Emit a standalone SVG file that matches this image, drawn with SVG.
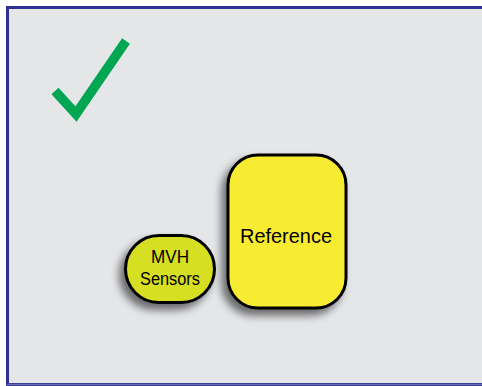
<svg xmlns="http://www.w3.org/2000/svg" width="482" height="386" viewBox="0 0 482 386">
  <defs>
    <filter id="shadow" x="-30%" y="-30%" width="160%" height="160%">
      <feGaussianBlur in="SourceAlpha" stdDeviation="4"/>
      <feOffset dx="-5" dy="6" result="b"/>
      <feComponentTransfer><feFuncA type="linear" slope="0.55"/></feComponentTransfer>
      <feMerge><feMergeNode/><feMergeNode in="SourceGraphic"/></feMerge>
    </filter>
  </defs>
  <style>
    .node { stroke: #000; stroke-width: 3; filter: url(#shadow); }
    .label { font-family: "Liberation Sans", Arial, sans-serif; fill: #000; text-anchor: middle; }
  </style>
  <rect width="482" height="386" fill="#fff"/>
  <!-- frame -->
  <rect x="7.5" y="7.5" width="490" height="377" fill="#E5E6E8" stroke="#2E3192" stroke-width="3"/>
  <line x1="7" y1="384.5" x2="482" y2="384.5" stroke="#6A6DAE" stroke-width="1.5"/>
  <!-- check mark -->
  <polyline points="55,91 76,114 126,41" fill="none" stroke="#00A651" stroke-width="9.5" stroke-linejoin="miter"/>
  <g id="reference">
    <rect class="node" x="228" y="155" width="118" height="153" rx="30" fill="#F8EC31"/>
    <text class="label" x="286" y="243" font-size="21" textLength="92" lengthAdjust="spacingAndGlyphs">Reference</text>
  </g>
  <g id="mvh-sensors">
    <rect class="node" x="125.5" y="235.5" width="89" height="67" rx="33.5" fill="#D7DF23"/>
    <text class="label" x="170" y="263" font-size="18" textLength="38" lengthAdjust="spacingAndGlyphs">MVH</text>
    <text class="label" x="170" y="285" font-size="18" textLength="60" lengthAdjust="spacingAndGlyphs">Sensors</text>
  </g>
  <g id="connectors"/>
</svg>
